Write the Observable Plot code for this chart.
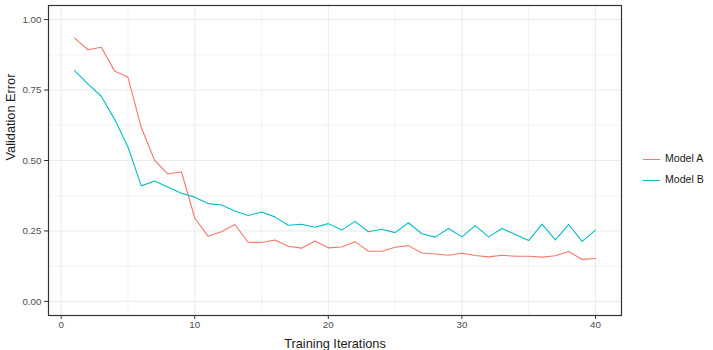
<!DOCTYPE html>
<html>
<head>
<meta charset="utf-8">
<script src="https://cdn.jsdelivr.net/npm/d3@7"></script>
<script src="https://cdn.jsdelivr.net/npm/@observablehq/plot@0.6"></script>
<style>
  html, body { margin: 0; padding: 0; background: #ffffff; overflow: hidden; }
  #wrap { position: relative; width: 713px; height: 350px; font-family: "Liberation Sans", Arial, sans-serif; }
  #legend { position: absolute; left: 643px; top: 150px; }
  .item { position: absolute; left: 0; height: 20px; width: 70px; }
  .key { position: absolute; left: 0; top: 9px; width: 17px; height: 0; border-top: 1.1px solid; }
  .lab { position: absolute; left: 22px; top: 2px; font-size: 10.6px; color: #1a1a1a; white-space: nowrap; }
</style>
</head>
<body>
<div id="wrap"><div id="legend"></div></div>
<script>
// Validation error per training iteration for two models
const iterations = [1, 2, 3, 4, 5, 6, 7, 8, 9, 10, 11, 12, 13, 14, 15, 16, 17, 18, 19, 20,
  21, 22, 23, 24, 25, 26, 27, 28, 29, 30, 31, 32, 33, 34, 35, 36, 37, 38, 39, 40];

const modelA = [0.934, 0.893, 0.902, 0.818, 0.795, 0.616, 0.500, 0.452, 0.460, 0.296,
  0.231, 0.247, 0.273, 0.210, 0.209, 0.218, 0.196, 0.189, 0.214, 0.190,
  0.193, 0.212, 0.178, 0.178, 0.192, 0.198, 0.172, 0.168, 0.164, 0.171,
  0.163, 0.158, 0.164, 0.160, 0.160, 0.157, 0.162, 0.177, 0.149, 0.152];

const modelB = [0.819, 0.772, 0.728, 0.646, 0.548, 0.410, 0.427, 0.405, 0.384, 0.370,
  0.347, 0.342, 0.321, 0.305, 0.317, 0.300, 0.270, 0.274, 0.263, 0.276,
  0.253, 0.284, 0.247, 0.256, 0.244, 0.279, 0.240, 0.228, 0.259, 0.229,
  0.269, 0.229, 0.259, 0.237, 0.216, 0.274, 0.218, 0.273, 0.213, 0.253];

const seriesNames = ["Model A", "Model B"];
const seriesColors = ["#F8766D", "#00BFC4"];

const xTicks = [0, 10, 20, 30, 40];
const xMinor = [5, 15, 25, 35];
const yTicks = [0, 0.25, 0.5, 0.75, 1];
const yMinor = [0.125, 0.375, 0.625, 0.875];

const xTitle = "Training Iterations";
const yTitle = "Validation Error";

// long-format table for the line mark
const rows = [];
[modelA, modelB].forEach((vals, s) => {
  vals.forEach((v, i) => rows.push({iteration: iterations[i], error: v, model: seriesNames[s]}));
});

const grid = "#EBEBEB";

const chart = Plot.plot({
  width: 713,
  height: 350,
  marginLeft: 48,
  marginRight: 92,
  marginTop: 5,
  marginBottom: 35,
  style: {fontFamily: "'Liberation Sans', Arial, sans-serif", fontSize: "9.8px", background: "#ffffff", overflow: "visible"},
  x: {domain: [-0.95, 41.95]},
  y: {domain: [-0.05, 1.05]},
  color: {domain: seriesNames, range: seriesColors},
  marks: [
    Plot.gridX(xMinor, {stroke: grid, strokeOpacity: 1, strokeWidth: 0.6}),
    Plot.gridY(yMinor, {stroke: grid, strokeOpacity: 1, strokeWidth: 0.6}),
    Plot.gridX(xTicks, {stroke: grid, strokeOpacity: 1, strokeWidth: 1.1}),
    Plot.gridY(yTicks, {stroke: grid, strokeOpacity: 1, strokeWidth: 1.1}),
    Plot.line(rows, {x: "iteration", y: "error", z: "model", stroke: "model", strokeWidth: 1.1}),
    Plot.frame({stroke: "#333333", strokeWidth: 1.2}),
    Plot.axisX(xTicks, {tickSize: 4, tickPadding: 2, stroke: "#333333", fill: "#4D4D4D", label: null}),
    Plot.axisY(yTicks, {tickSize: 4, tickPadding: 3, stroke: "#333333", fill: "#4D4D4D", label: null, tickFormat: d3.format(".2f")}),
    Plot.text([xTitle], {text: d => d, frameAnchor: "bottom", dy: 28, lineAnchor: "middle", fontSize: 12.75, fill: "#1a1a1a"}),
    Plot.text([yTitle], {text: d => d, frameAnchor: "left", dx: -38, rotate: -90, lineAnchor: "middle", fontSize: 12.75, fill: "#1a1a1a"})
  ]
});

document.getElementById("wrap").prepend(chart);

// legend for the two series
const legend = document.getElementById("legend");
seriesNames.forEach((name, i) => {
  const item = document.createElement("div");
  item.className = "item";
  item.style.top = (i * 20.7) + "px";
  const key = document.createElement("div");
  key.className = "key";
  key.style.borderTopColor = seriesColors[i];
  const lab = document.createElement("div");
  lab.className = "lab";
  lab.textContent = name;
  item.append(key, lab);
  legend.append(item);
});
</script>
</body>
</html>
